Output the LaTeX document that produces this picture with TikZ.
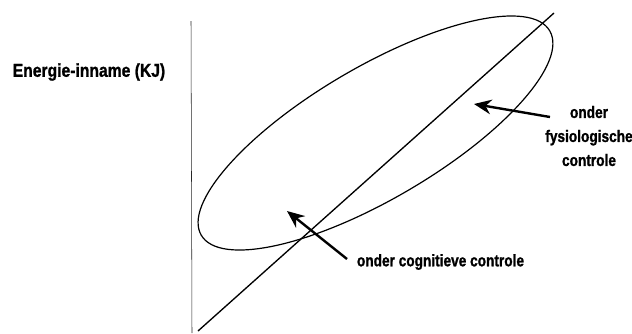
\documentclass[tikz,border=0pt]{standalone}
\usepackage{fontspec}
\newfontfamily\condfont[FakeStretch=0.82,FakeBold=1.2]{Liberation Sans}
\newfontfamily\condfontwide[FakeStretch=0.84,FakeBold=1.2]{Liberation Sans}
\usetikzlibrary{arrows.meta}
\tikzset{
  lbl/.style={font=\condfont\bfseries\fontsize{12.5}{18}\selectfont, align=center, inner sep=0pt},
  pijl/.style={line width=1.8pt, -{Stealth[length=13pt,width=11pt]}}
}
\begin{document}
\begin{tikzpicture}[x=0.75pt,y=-0.75pt]
\useasboundingbox (0,0) rectangle (632,333);

%%%%%%%%%%% as en diagonaal
\coordinate (astop) at (191,21);
\coordinate (asbodem) at (192,333);
\draw[thin, black!85] (astop) -- (asbodem);
\coordinate (diagA) at (198,331);
\coordinate (diagB) at (554,13);
\draw[line width=1pt] (diagA) -- (diagB);
% ---------------    ellips
\coordinate (midden) at (375.5,133);
\draw[line width=0.9pt, rotate around={30.4:(midden)}] (midden) ellipse[x radius=151.5pt, y radius=49.5pt];

% ---------------    teksten
\node[lbl, font=\condfontwide\bfseries\fontsize{14}{18}\selectfont] (energie) at (89,72) {Energie-inname (KJ)};
\node[lbl] (fysio) at (589,136) {onder\\fysiologische\\controle};
\node[lbl] (cogn) at (440.5,262) {onder cognitieve controle};

% ---------------    pijlen
\coordinate (fysiostaart) at (550,117);
\coordinate (fysiopunt) at (474,104);
\draw[pijl] (fysiostaart) -- (fysiopunt);
\coordinate (cognstaart) at (347,259);
\coordinate (cognpunt) at (287,211);
\draw[pijl] (cognstaart) -- (cognpunt);
\end{tikzpicture}
\end{document}
